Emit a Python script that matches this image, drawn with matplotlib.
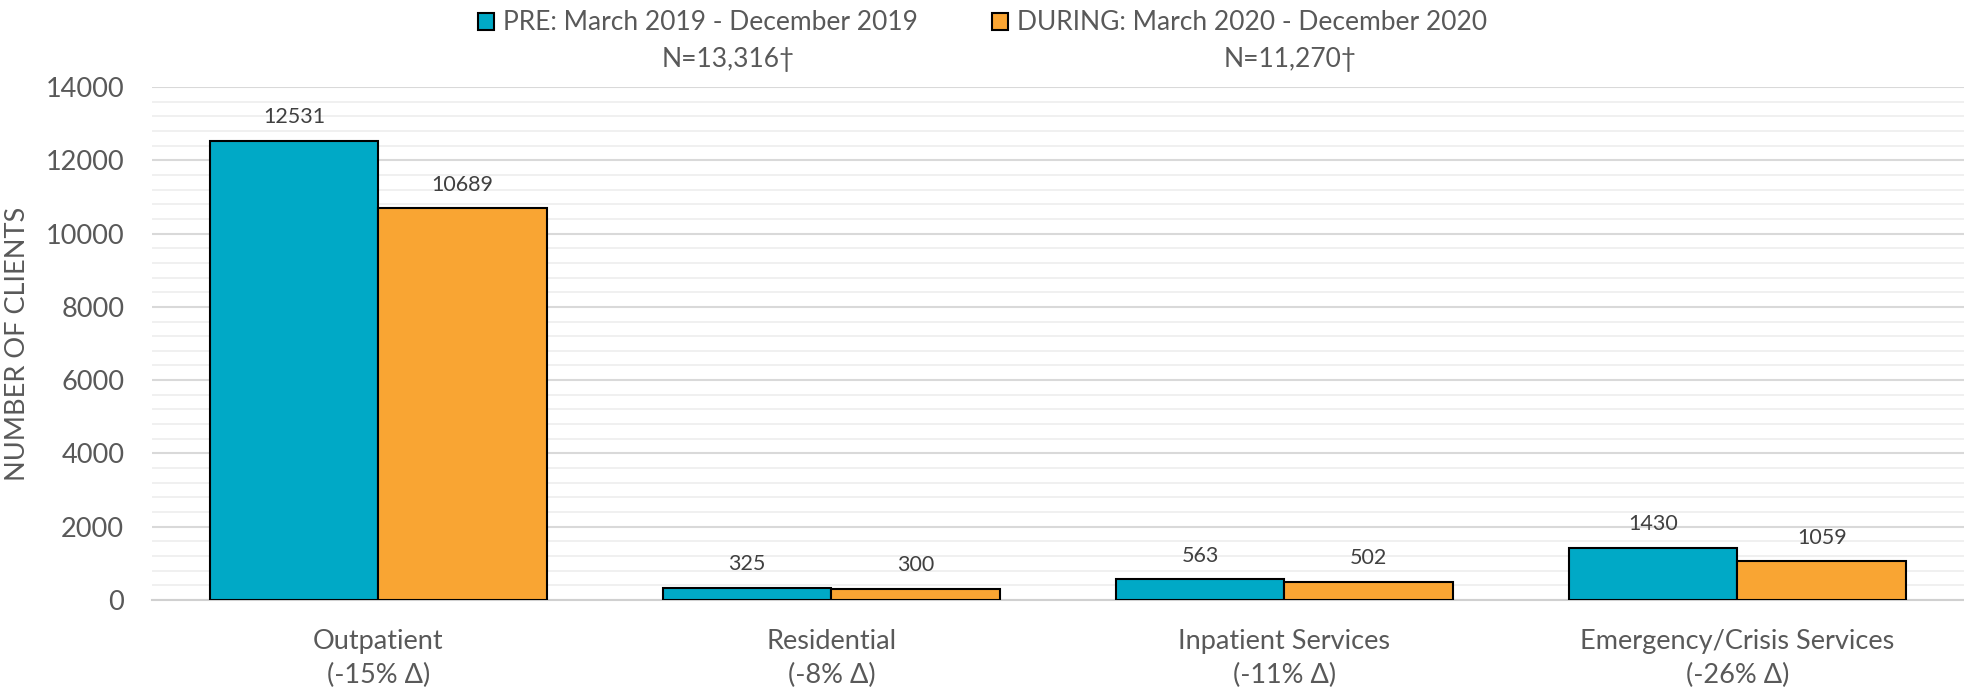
import matplotlib
matplotlib.use("Agg")
import matplotlib.pyplot as plt
import numpy as np
from matplotlib.ticker import MultipleLocator
from matplotlib.patches import Patch

categories = ["Outpatient\n(-15% Δ)", "Residential\n(-8% Δ)", "Inpatient Services\n(-11% Δ)",
              "Emergency/Crisis Services\n(-26% Δ)"]
pre_values = [12531, 325, 563, 1430]
during_values = [10689, 300, 502, 1059]
series_labels = ["PRE: March 2019 - December 2019", "DURING: March 2020 - December 2020"]
series_n = ["N=13,316†", "N=11,270†"]
yticks = [0, 2000, 4000, 6000, 8000, 10000, 12000, 14000]

plt.rcParams['font.family'] = ['Lato', 'DejaVu Sans']
TXT = '#595959'
BLUE = '#00A9C6'
ORANGE = '#F9A533'

fig = plt.figure(figsize=(19.65, 6.88), dpi=100)
ax = fig.add_axes([152/1965, 1-600/688, (1964-152)/1965, (600-87)/688])

x = np.arange(len(categories))
w = 0.372
b1 = ax.bar(x - w/2, pre_values, w, color=BLUE, edgecolor='black', linewidth=1.5, zorder=3)
b2 = ax.bar(x + w/2, during_values, w, color=ORANGE, edgecolor='black', linewidth=1.5, zorder=3)

for bars, vals in ((b1, pre_values), (b2, during_values)):
    for r, v in zip(bars, vals):
        ax.annotate(f"{v}", (r.get_x() + r.get_width()/2, v), xytext=(0, 17),
                    textcoords='offset points', ha='center', va='center',
                    fontsize=15.5, color='#404040')

ax.set_xlim(-0.5, len(categories) - 0.5)
ax.set_ylim(0, 14000)
ax.set_yticks(yticks)
ax.set_yticklabels([str(t) for t in yticks])
ax.yaxis.set_minor_locator(MultipleLocator(400))
ax.grid(axis='y', which='major', color='#D9D9D9', linewidth=1.5, zorder=0)
ax.grid(axis='y', which='minor', color='#EFEFEF', linewidth=1.3, zorder=0)
ax.set_xticks(x)
ax.set_xticklabels(categories, fontsize=19.5, color=TXT, linespacing=1.45)
ax.tick_params(axis='both', which='both', length=0)
ax.tick_params(axis='y', labelsize=19.5, labelcolor=TXT, pad=20)
ax.tick_params(axis='x', pad=21)
for s in ['top', 'right', 'left']:
    ax.spines[s].set_visible(False)
ax.spines['bottom'].set_color('#D0D0D0')
ax.spines['bottom'].set_linewidth(1.5)
ax.set_ylabel("NUMBER OF CLIENTS", fontsize=19.5, color=TXT)
ax.yaxis.label.set_va('center')
ax.yaxis.set_label_coords((18-152)/1812, 0.5)

handles = [Patch(facecolor=BLUE, edgecolor='black', linewidth=1.5),
           Patch(facecolor=ORANGE, edgecolor='black', linewidth=1.5)]
leg = fig.legend(handles, series_labels, loc='center', bbox_to_anchor=(0.5, 1-23/688), ncol=2,
                 frameon=False, fontsize=19, labelcolor=TXT, handlelength=0.6, handleheight=0.6,
                 handletextpad=0.34, columnspacing=2.84, borderpad=0, borderaxespad=0)
fig.text(728/1965, 1-60/688, series_n[0], ha='center', va='center', fontsize=19, color=TXT)
fig.text(1290/1965, 1-60/688, series_n[1], ha='center', va='center', fontsize=19, color=TXT)

fig.savefig("out.png", dpi=100)
